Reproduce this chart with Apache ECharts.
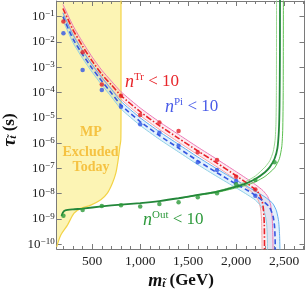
<!DOCTYPE html>
<html><head><meta charset="utf-8">
<script src="https://cdn.jsdelivr.net/npm/echarts@6/dist/echarts.min.js"></script>
<style>html,body{margin:0;padding:0;background:#fff}#c{width:307px;height:296px}</style>
</head><body><div id="c"></div>
<script>
// ---- data (log10 of lifetime in seconds) ----
const massTrPi = [200,400,600,800,1000,1200,1400,1600,1800,2000,2200];
const massOut = [200,400,600,800,1000,1200,1400,1600,1800,2000,2200,2400];
const trDots = [-1.19,-2.41,-3.68,-4.13,-4.89,-5.19,-5.52,-6.36,-6.67,-7.33,-7.83];
const piDots = [-1.66,-3.11,-3.90,-4.56,-5.25,-5.59,-6.10,-6.76,-7.06,-7.50,-8.08];
const outDots = [-8.87,-8.64,-8.49,-8.46,-8.51,-8.41,-8.34,-8.14,-7.98,-7.63,-7.46,-6.76];

const trCenter = [[195,-0.68],[300,-1.52],[400,-2.17],[500,-2.76],[600,-3.28],[700,-3.7],[800,-4.12],[1000,-4.76],[1200,-5.31],[1400,-5.81],[1600,-6.31],[1800,-6.79],[2000,-7.29],[2100,-7.55],[2200,-7.84],[2240,-8.0],[2270,-8.28],[2285,-8.65],[2293,-9.2],[2296,-10.5]];
const trUpper = [[195,-0.52],[300,-1.36],[400,-2.01],[500,-2.6],[600,-3.12],[700,-3.55],[800,-3.97],[1000,-4.61],[1200,-5.16],[1400,-5.66],[1600,-6.16],[1800,-6.64],[2000,-7.13],[2100,-7.38],[2200,-7.64],[2280,-7.88],[2330,-8.12],[2360,-8.45],[2375,-8.95],[2382,-9.6],[2385,-10.5]];
const trLower = [[195,-0.85],[300,-1.68],[400,-2.33],[500,-2.92],[600,-3.44],[700,-3.86],[800,-4.27],[1000,-4.91],[1200,-5.46],[1400,-5.96],[1600,-6.46],[1800,-6.94],[2000,-7.45],[2100,-7.72],[2180,-8.0],[2230,-8.25],[2255,-8.6],[2265,-9.1],[2269,-9.8],[2270,-10.5]];

const piCenter = [[195,-1.0],[300,-1.88],[400,-2.5],[500,-3.05],[600,-3.55],[700,-4.02],[800,-4.5],[1000,-5.15],[1200,-5.7],[1400,-6.2],[1600,-6.7],[1800,-7.17],[2000,-7.62],[2100,-7.83],[2200,-8.06],[2300,-8.35],[2350,-8.55],[2385,-8.9],[2400,-9.3],[2406,-9.8],[2408,-10.5]];
const piUpper = [[195,-0.85],[300,-1.73],[400,-2.35],[500,-2.9],[600,-3.4],[700,-3.87],[800,-4.35],[1000,-5.0],[1200,-5.55],[1400,-6.05],[1600,-6.55],[1800,-7.02],[2000,-7.47],[2100,-7.68],[2200,-7.9],[2300,-8.13],[2380,-8.38],[2420,-8.68],[2443,-9.1],[2453,-9.7],[2457,-10.5]];
const piLower = [[195,-1.15],[300,-2.03],[400,-2.65],[500,-3.2],[600,-3.7],[700,-4.17],[800,-4.65],[1000,-5.3],[1200,-5.85],[1400,-6.35],[1600,-6.85],[1800,-7.32],[2000,-7.77],[2100,-8.0],[2200,-8.25],[2260,-8.5],[2300,-8.8],[2318,-9.2],[2325,-9.8],[2327,-10.5]];

const outCenter = [[180,-8.88],[195,-8.74],[220,-8.66],[300,-8.62],[400,-8.59],[600,-8.5],[800,-8.43],[1000,-8.37],[1200,-8.29],[1400,-8.18],[1600,-8.05],[1800,-7.92],[2000,-7.72],[2100,-7.6],[2200,-7.42],[2300,-7.15],[2350,-6.95],[2400,-6.62],[2430,-6.2],[2445,-5.5],[2452,-4.5],[2456,-2.5],[2457,0]];
const outLeft = [[1400,-8.18],[1600,-8.04],[1800,-7.9],[2000,-7.68],[2100,-7.52],[2200,-7.3],[2300,-6.95],[2350,-6.7],[2385,-6.35],[2405,-5.9],[2415,-5.2],[2419,-4.0],[2421,0]];
const outRight = [[1400,-8.19],[1600,-8.07],[1800,-7.95],[2000,-7.77],[2100,-7.67],[2200,-7.53],[2300,-7.32],[2400,-6.98],[2450,-6.62],[2475,-6.15],[2485,-5.5],[2490,-4.0],[2492,0]];

const excludedEdge = [[130,-10.1],[173,-9.63],[242,-9.24],[311,-8.77],[381,-8.58],[485,-8.45],[590,-8.24],[658,-7.98],[710,-7.59],[746,-7.19],[770,-6.67],[788,-6.14],[798,-5.88],[800,-5.1],[800,0]];

const xLabels = [500,1000,1500,2000,2500];
const xMinor = [200,300,400,600,700,800,900,1100,1200,1300,1400,1600,1700,1800,1900,2100,2200,2300,2400,2600,2700];
const yLabels = [-10,-9,-8,-7,-6,-5,-4,-3,-2,-1];

// ---- layout ----
const X_MIN = 130, X_MAX = 2712, Y_MIN = -10.186, Y_MAX = -0.383;
const GRID = {left: 56.7, top: 1, right: 2.5, bottom: 47};
const FONT = 'Liberation Serif';
const FRAME = '#7a7a7a';

function xAx(grid, pos, major) {
  return {
    gridIndex: grid, type: 'value', min: X_MIN, max: X_MAX, position: pos,
    axisLine: {show: major, onZero: false, lineStyle: {color: FRAME, width: 1}},
    axisTick: {show: true, inside: true, length: major ? 5 : 3, customValues: major ? xLabels : xMinor, lineStyle: {color: FRAME}},
    axisLabel: (major && pos === 'bottom') ? {show: true, customValues: xLabels, color: '#222', fontFamily: FONT, fontSize: 13.5, margin: 5} : {show: false},
    splitLine: {show: false}
  };
}
function yAx(grid, pos, major) {
  return {
    gridIndex: grid, type: 'value', min: Y_MIN, max: Y_MAX, position: pos,
    axisLine: {show: major, onZero: false, lineStyle: {color: FRAME, width: 1}},
    axisTick: {show: major, inside: true, length: 5, customValues: yLabels, lineStyle: {color: FRAME}},
    axisLabel: (major && pos === 'left') ? {
      show: true, customValues: yLabels, margin: 2,
      formatter: v => '{b|10}{s|' + (v < 0 ? '\u2212' : '') + Math.abs(v) + '}',
      rich: {
        b: {fontSize: 13, fontFamily: FONT, color: '#222', lineHeight: 14},
        s: {fontSize: 9, fontFamily: FONT, color: '#222', lineHeight: 4, verticalAlign: 'top'}
      }
    } : {show: false},
    splitLine: {show: false}
  };
}

function line(data, color, width, type, z) {
  return {type: 'line', xAxisIndex: 0, yAxisIndex: 0, data: data, showSymbol: false, symbol: 'none',
    smooth: 0.2, clip: true, z: z || 3, silent: true,
    lineStyle: {color: color, width: width, type: type || 'solid'}};
}
function band(upper, lower, color) {
  return {type: 'custom', xAxisIndex: 0, yAxisIndex: 0, data: [[X_MIN, Y_MIN]], clip: true, z: 1, silent: true,
    renderItem: function (params, api) {
      const pts = upper.map(p => api.coord(p)).concat(lower.slice().reverse().map(p => api.coord(p)));
      return {type: 'polygon', shape: {points: pts}, style: {fill: color, stroke: null}};
    }};
}
function dots(xs, ys, color) {
  return {type: 'scatter', xAxisIndex: 0, yAxisIndex: 0, data: xs.map((x, i) => [x, ys[i]]), symbolSize: 4.5,
    itemStyle: {color: color}, z: 5, silent: true};
}

const chart = echarts.init(document.getElementById('c'), null, {renderer: 'canvas'});
chart.setOption({
  animation: false,
  backgroundColor: '#fff',
  grid: [Object.assign({}, GRID), Object.assign({}, GRID)],
  xAxis: [xAx(0, 'bottom', true), xAx(0, 'top', true), xAx(1, 'bottom', false), xAx(1, 'top', false)],
  yAxis: [yAx(0, 'left', true), yAx(0, 'right', true), yAx(1, 'left', false), yAx(1, 'right', false)],
  series: [
    {type: 'line', xAxisIndex: 0, yAxisIndex: 0, data: excludedEdge, showSymbol: false, symbol: 'none', smooth: 0.3, z: 0, silent: true,
      lineStyle: {color: '#f3d347', width: 1.2}, areaStyle: {origin: 'end', color: '#fcf4b4', opacity: 1}},
    band(trUpper, trLower, 'rgba(247,170,190,0.22)'),
    band(piUpper, piLower, 'rgba(130,195,240,0.22)'),
    line(trLower, '#f5a3a3', 1),
    line(trUpper, '#ec78b6', 1),
    line(piLower, '#8fd0e6', 1),
    line(piUpper, '#62aef0', 1),
    line(outLeft, '#9ad892', 1),
    line(outRight, '#5bbf4e', 1),
    line(trCenter, '#e8232a', 1.6, [6, 2, 1.5, 2], 4),
    line(piCenter, '#3556e0', 1.6, [5, 3], 4),
    line(outCenter, '#23873a', 1.8, 'solid', 4),
    dots(massTrPi, trDots, '#e41f26'),
    dots(massTrPi, piDots, '#2f55e6'),
    dots(massOut, outDots, '#2c9a3a')
  ],
  graphic: [
    {type: 'text', x: 91, y: 132, style: {text: 'MP', font: 'bold 14px "Liberation Serif"', fill: '#f5c242', align: 'center', verticalAlign: 'middle'}, z: 10},
    {type: 'text', x: 90.5, y: 152, style: {text: 'Excluded', font: 'bold 14px "Liberation Serif"', fill: '#f5c242', align: 'center', verticalAlign: 'middle'}, z: 10},
    {type: 'text', x: 91, y: 167, style: {text: 'Today', font: 'bold 14px "Liberation Serif"', fill: '#f5c242', align: 'center', verticalAlign: 'middle'}, z: 10},
    {type: 'text', x: 125, y: 82, z: 10, style: {text: '{n|n}{s|Tr}{t| < 10}', align: 'left', verticalAlign: 'middle',
      rich: {n: {fontFamily: FONT, fontStyle: 'italic', fontSize: 18, fill: '#e8262b', lineHeight: 20},
             s: {fontFamily: FONT, fontSize: 11, fill: '#e8262b', lineHeight: 2, verticalAlign: 'top'},
             t: {fontFamily: FONT, fontSize: 17, fill: '#e8262b', lineHeight: 20}}}},
    {type: 'text', x: 165, y: 107, z: 10, style: {text: '{n|n}{s|Pi}{t| < 10}', align: 'left', verticalAlign: 'middle',
      rich: {n: {fontFamily: FONT, fontStyle: 'italic', fontSize: 18, fill: '#4a5ce8', lineHeight: 20},
             s: {fontFamily: FONT, fontSize: 11, fill: '#4a5ce8', lineHeight: 2, verticalAlign: 'top'},
             t: {fontFamily: FONT, fontSize: 17, fill: '#4a5ce8', lineHeight: 20}}}},
    {type: 'text', x: 143, y: 220, z: 10, style: {text: '{n|n}{s|Out}{t| < 10}', align: 'left', verticalAlign: 'middle',
      rich: {n: {fontFamily: FONT, fontStyle: 'italic', fontSize: 18, fill: '#2e9a3c', lineHeight: 20},
             s: {fontFamily: FONT, fontSize: 11, fill: '#2e9a3c', lineHeight: 2, verticalAlign: 'top'},
             t: {fontFamily: FONT, fontSize: 17, fill: '#2e9a3c', lineHeight: 20}}}},
    {type: 'text', x: 181, y: 281, z: 10, style: {text: '{m|m}{s|t\u0303}{t| (GeV)}', align: 'center', verticalAlign: 'middle',
      rich: {m: {fontFamily: FONT, fontStyle: 'italic', fontWeight: 'bold', fontSize: 18, fill: '#111', lineHeight: 18},
             s: {fontFamily: FONT, fontStyle: 'italic', fontWeight: 'bold', fontSize: 11, fill: '#111', lineHeight: 2, verticalAlign: 'bottom'},
             t: {fontFamily: FONT, fontWeight: 'bold', fontSize: 17, fill: '#111', lineHeight: 18}}}},
    {type: 'text', x: 10, y: 130, rotation: Math.PI / 2, z: 10, style: {text: '{m|\u03c4}{s|t\u0303}{t| (s)}', align: 'center', verticalAlign: 'middle',
      rich: {m: {fontFamily: FONT, fontStyle: 'italic', fontWeight: 'bold', fontSize: 18, fill: '#111', lineHeight: 18},
             s: {fontFamily: FONT, fontStyle: 'italic', fontWeight: 'bold', fontSize: 11, fill: '#111', lineHeight: 2, verticalAlign: 'bottom'},
             t: {fontFamily: FONT, fontWeight: 'bold', fontSize: 17, fill: '#111', lineHeight: 18}}}}
  ]
});
</script>
</body></html>
